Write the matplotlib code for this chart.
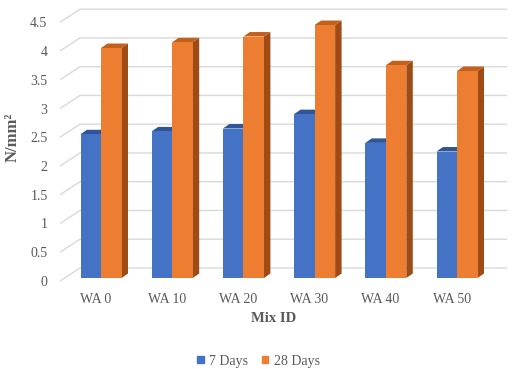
import numpy as np
import matplotlib
matplotlib.use("Agg")
import matplotlib.pyplot as plt
from matplotlib.patches import Polygon, Patch

# ---------- data ----------
mixes = ["WA 0", "WA 10", "WA 20", "WA 30", "WA 40", "WA 50"]
days7 = [2.5, 2.55, 2.6, 2.85, 2.35, 2.2]
days28 = [4.0, 4.1, 4.2, 4.4, 3.7, 3.6]
yticks = [0, 0.5, 1, 1.5, 2, 2.5, 3, 3.5, 4, 4.5]

plt.rcParams["font.family"] = ["Liberation Serif", "DejaVu Serif"]
TXT = "#595959"
GRID = "#d9d9d9"

# fake-3d geometry (data units: x = category, y = value)
WALL_DX, WALL_DY = 0.281, 0.227     # back wall offset
BAR_SX, BAR_SY = 0.076, 0.052       # bars sit a little behind the front plane
BAR_DX, BAR_DY = 0.091, 0.078       # bar depth
BAR_W = 0.288

series = [
    (days7, "7 Days", "#4472c4", "#2f5597", "#2a4a80"),
    (days28, "28 Days", "#ed7d31", "#c3601c", "#9e4b16"),
]

fig = plt.figure(figsize=(5.2, 3.69), dpi=100)
W, H = 520, 369
left, right, top, bottom = 60, 515, 5, 287
ax = fig.add_axes([left / W, 1 - bottom / H, (right - left) / W, (bottom - top) / H])
ax.set_xlim(0, (right - left) / 71.2)
ax.set_ylim(-(bottom - 281) / 57.5, (281 - top) / 57.5)

# back wall gridlines with the diagonal on the side wall
n = len(mixes)
for v in yticks:
    ax.plot([0, WALL_DX, n + WALL_DX], [v, v + WALL_DY, v + WALL_DY],
            color=GRID, lw=1.0, zorder=1, solid_capstyle="butt")

# bars: side, top, front
for i in range(n):
    c = i + 0.5 + BAR_SX
    for k, (vals, lab, front, topc, side) in enumerate(series):
        x0 = c - BAR_W if k == 0 else c
        x1 = x0 + BAR_W
        y0 = BAR_SY
        y1 = vals[i] + BAR_SY
        ax.add_patch(Polygon([(x1, y0), (x1 + BAR_DX, y0 + BAR_DY),
                              (x1 + BAR_DX, y1 + BAR_DY), (x1, y1)],
                             closed=True, fc=side, ec="none", zorder=2))
        ax.add_patch(Polygon([(x0, y1), (x0 + BAR_DX, y1 + BAR_DY),
                              (x1 + BAR_DX, y1 + BAR_DY), (x1, y1)],
                             closed=True, fc=topc, ec="none", zorder=2))
        ax.bar(x0, y1 - y0, width=BAR_W, bottom=y0, align="edge",
               color=front, zorder=3, lw=0)

for s in ax.spines.values():
    s.set_visible(False)
ax.set_yticks(yticks)
ax.set_yticklabels([f"{t:g}" for t in yticks])
ax.set_xticks(np.arange(n) + 0.5)
ax.set_xticklabels(mixes)
ax.tick_params(axis="both", length=0, labelsize=10, labelcolor=TXT)
ax.tick_params(axis="y", pad=9)
ax.tick_params(axis="x", pad=4)

fig.text(12.5 / W, 1 - 137 / H, "N/mm²", rotation=90, ha="center", va="center",
         fontsize=12, fontweight="bold", color=TXT)
fig.text(274 / W, 1 - 318 / H, "Mix ID", ha="center", va="center",
         fontsize=10.5, fontweight="bold", color=TXT)

handles = [Patch(color=s[2], label=s[1]) for s in series]
leg = fig.legend(handles=handles, loc="center", bbox_to_anchor=(258.5 / W, 1 - 361 / H),
                 ncol=2, frameon=False, fontsize=10, handlelength=0.45,
                 handleheight=0.45, handletextpad=0.4, columnspacing=1.0)
for t in leg.get_texts():
    t.set_color(TXT)

fig.savefig("out.png", dpi=100)
